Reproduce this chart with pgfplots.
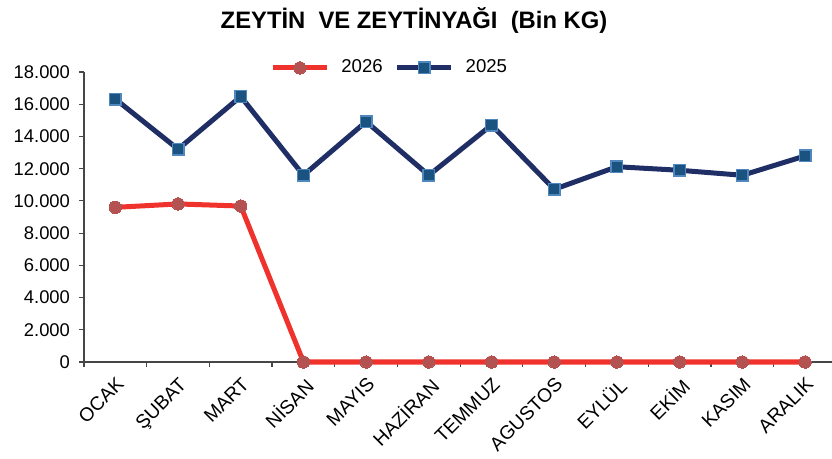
\documentclass[border=0pt]{standalone}
\usepackage{pgfplots}
\pgfplotsset{compat=1.18}
\usepackage{fontspec}
\setmainfont{Liberation Sans}
\definecolor{redline}{RGB}{240,50,45}
\definecolor{redmark}{RGB}{180,82,82}
\definecolor{navyline}{RGB}{32,46,102}
\definecolor{sqfill}{RGB}{26,82,128}
\definecolor{sqedge}{RGB}{80,135,190}
\definecolor{axgray}{RGB}{70,70,70}
\begin{document}
\begin{tikzpicture}
\useasboundingbox (-42bp,-48.5bp) rectangle (374bp,181bp);
\begin{axis}[
  anchor=south west, at={(0,0)},
  scale only axis,
  width=374bp, height=145bp,
  xmin=-0.5, xmax=11.43,
  ymin=0, ymax=18000,
  axis x line*=bottom, axis y line*=left,
  axis line style={axgray, line width=0.6bp, -},
  xtick={0,...,11},
  xticklabels={OCAK,ŞUBAT,MART,NİSAN,MAYIS,HAZİRAN,TEMMUZ,AGUSTOS,EYLÜL,EKİM,KASIM,ARALIK},
  major x tick style={draw=none},
  minor xtick={-0.5,0.5,...,11.5},
  minor x tick style={axgray, line width=0.6bp},
  ytick={0,2000,...,18000},
  y tick style={axgray, line width=0.6bp},
  tick align=outside,
  major tick length=2.5bp, minor tick length=2.5bp,
  /pgf/number format/assume math mode=true,
  /pgf/number format/1000 sep={.},
  scaled y ticks=false,
  yticklabel style={font=\fontsize{9.2bp}{10bp}\selectfont, text=black, xshift=-1bp},
  xticklabel style={font=\fontsize{9.6bp}{10bp}\selectfont, text=black, yshift=-3bp, rotate=45, anchor=north east, inner sep=1bp},
  legend style={at={(0.41,1.014)}, anchor=center, draw=none, fill=none, font=\fontsize{9.3bp}{10bp}\selectfont, column sep=4bp},
  legend columns=2,
  legend image code/.code={\draw[mark repeat=2,mark phase=2] plot coordinates {(0bp,0bp) (13.5bp,0bp) (27bp,0bp)};},
  clip=false,
]
\addplot[redline, line width=2.5bp, mark=*, mark size=3.1bp, mark options={fill=redmark, draw=redmark, line width=0bp}]
  coordinates {(0,9600) (1,9810) (2,9680) (3,0) (4,0) (5,0) (6,0) (7,0) (8,0) (9,0) (10,0) (11,0)};
\addlegendentry{2026}
\addplot[navyline, line width=2.5bp, mark=square*, mark size=2.9bp, mark options={fill=sqfill, draw=sqedge, line width=0.7bp}]
  coordinates {(0,16320) (1,13210) (2,16480) (3,11590) (4,14920) (5,11590) (6,14710) (7,10720) (8,12120) (9,11900) (10,11590) (11,12790)};
\addlegendentry{2025}
\end{axis}
\node[font=\fontsize{11.9bp}{13bp}\selectfont\bfseries, anchor=center, inner sep=0pt] at (165bp,171bp) {ZEYTİN\ \ VE ZEYTİNYAĞI\ \ (Bin KG)};
\end{tikzpicture}
\end{document}
